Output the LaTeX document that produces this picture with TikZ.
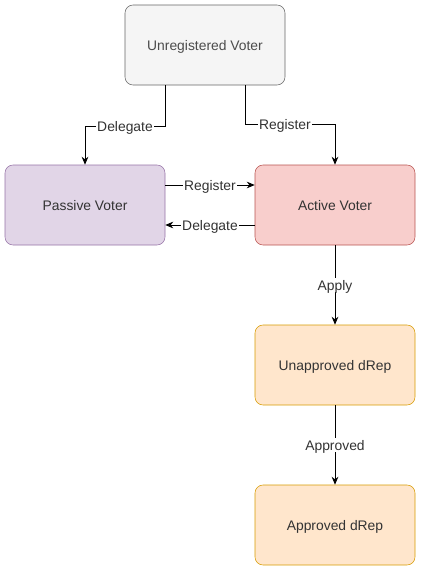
\documentclass[tikz,border=0pt]{standalone}
\usepackage{fontspec}
\setmainfont{Liberation Sans}
\usetikzlibrary{arrows.meta}
\definecolor{greyfill}{HTML}{F5F5F5}
\definecolor{greyline}{HTML}{666666}
\definecolor{purplefill}{HTML}{E1D5E7}
\definecolor{purpleline}{HTML}{9673A6}
\definecolor{redfill}{HTML}{F8CECC}
\definecolor{redline}{HTML}{B85450}
\definecolor{orangefill}{HTML}{FFE6CC}
\definecolor{orangeline}{HTML}{D79B00}

\begin{document}
\begin{tikzpicture}[x=0.75pt,y=-0.75pt,
    state/.style={draw, rounded corners=6pt, minimum width=120pt, minimum height=60pt,
      inner sep=0pt, text height=8pt, text depth=0pt,
      font=\fontsize{10.4}{12}\selectfont, text=black!80},
    flow/.style={-{Stealth[length=6pt,width=5pt]}, line width=0.75pt},
    lbl/.style={fill=white, inner sep=1pt, text height=8pt, text depth=0pt,
      font=\fontsize{10.4}{12}\selectfont, text=black!80}]
      \useasboundingbox (0,0) rectangle (422,571);
      \node[state, fill=greyfill, draw=greyline, text=black!70] (unreg) at (205,45) {Unregistered Voter};
      \node[state, fill=purplefill, draw=purpleline] (passive) at (85,205) {Passive Voter};
      \node[state, fill=redfill, draw=redline] (active) at (335,205) {Active Voter};
      \node[state, fill=orangefill, draw=orangeline] (unappr) at (335,365) {Unapproved dRep};
      \node[state, fill=orangefill, draw=orangeline] (appr) at (335,525) {Approved dRep};
      % from the top box
      \draw[flow] ([xshift=-30pt]unreg.south) |- (125,126) node[lbl] {Delegate} -| (passive.north);
      \draw[flow] ([xshift=30pt]unreg.south) |- (285,124) node[lbl] {Register} -| (active.north);
      % between the voters
      \draw[flow] ([yshift=15pt]passive.east) -- node[lbl] {Register} ([yshift=15pt]active.west);
      \draw[flow] ([yshift=-15pt]active.west) -- node[lbl] {Delegate} ([yshift=-15pt]passive.east);
      % down to the dReps
      \draw[flow] (active) -- node[lbl] {Apply} (unappr);
      \draw[flow] (unappr) -- node[lbl] {Approved} (appr);
\end{tikzpicture}
\end{document}
